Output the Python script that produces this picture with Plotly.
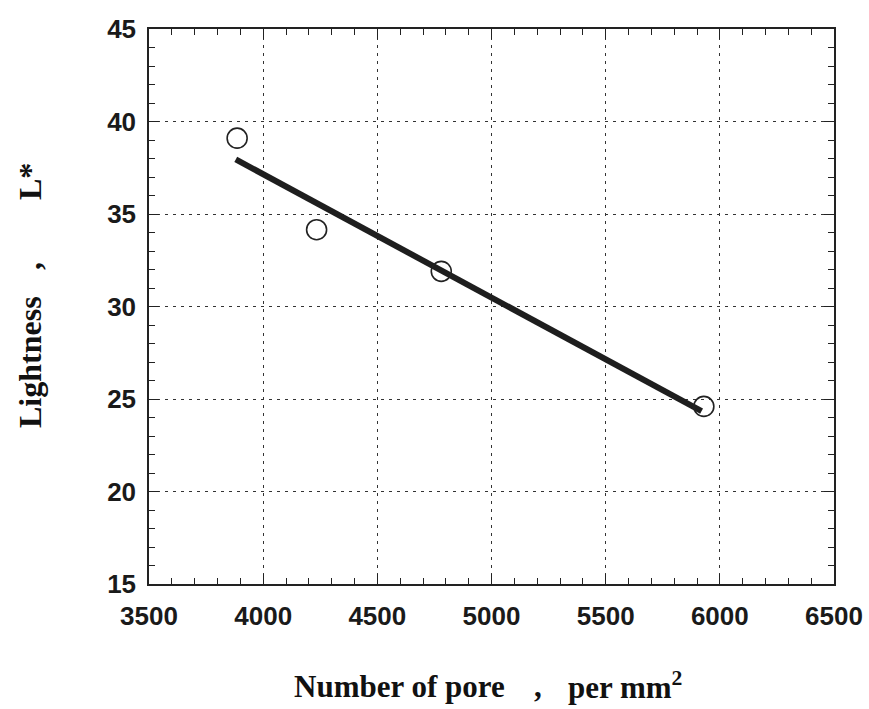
import plotly.graph_objects as go

# Measured samples: pore density vs. lightness
pores = [3886, 4234, 4780, 5930]
lightness = [39.1, 34.15, 31.9, 24.6]

# Linear trend line end points
fit_x = [3880, 5920]
fit_y = [37.95, 24.35]

x_ticks = [3500, 4000, 4500, 5000, 5500, 6000, 6500]
y_ticks = [15, 20, 25, 30, 35, 40, 45]

W, H = 869, 709
L, R, T, B = 149, 35, 29, 125
PW, PH = W - L - R, H - T - B


def px(x):
    return (x - L) / PW


def py(y):
    return (H - B - y) / PH


fig = go.Figure()
fig.add_trace(go.Scatter(
    x=fit_x, y=fit_y, mode="lines",
    line=dict(color="#1e1e1e", width=6),
    showlegend=False,
))
fig.add_trace(go.Scatter(
    x=pores, y=lightness, mode="markers",
    marker=dict(symbol="circle-open", size=20, color="#222", line=dict(width=1.6)),
    showlegend=False,
))

tick_font = dict(family="Liberation Sans, Arial", size=26, color="#1a1a1a", weight="bold")
axis_common = dict(
    showline=True, linecolor="#222", linewidth=1.5, mirror="allticks",
    ticks="inside", ticklen=10, tickwidth=1.3, tickcolor="#222",
    showgrid=True, gridcolor="#333", gridwidth=1.2, griddash="3px,5px",
    zeroline=False, tickfont=tick_font, automargin=False,
    ticklabeloverflow="allow",
)

fig.update_xaxes(
    range=[3500, 6500], tickvals=x_ticks, ticktext=[str(v) for v in x_ticks],
    ticklabelstandoff=8,
    minor=dict(ticks="inside", dtick=100, ticklen=6, tickcolor="#222", tickwidth=1, showgrid=False),
    **axis_common,
)
fig.update_yaxes(
    range=[15, 45], tickvals=y_ticks, ticktext=[str(v) for v in y_ticks],
    ticklabelstandoff=6,
    minor=dict(ticks="inside", dtick=1, ticklen=6, tickcolor="#222", tickwidth=1, showgrid=False),
    **axis_common,
)

title_font = dict(family="Liberation Serif, Times New Roman", size=31, color="#111", weight="bold")
ytitle_font = dict(family="Liberation Serif, Times New Roman", size=32, color="#111", weight="bold")

# x-axis title pieces
fig.add_annotation(text="Number of pore", xref="paper", yref="paper",
                   x=px(292), y=py(687), xanchor="left", yanchor="middle",
                   showarrow=False, font=title_font)
fig.add_annotation(text=",", xref="paper", yref="paper",
                   x=px(538), y=py(687), xanchor="center", yanchor="middle",
                   showarrow=False, font=title_font)
fig.add_annotation(text="per mm<sup>2</sup>", xref="paper", yref="paper",
                   x=px(566), y=py(685), xanchor="left", yanchor="middle",
                   showarrow=False, font=title_font)

# y-axis title pieces
fig.add_annotation(text="Lightness", xref="paper", yref="paper",
                   x=px(30), y=py(362), textangle=-90, xanchor="center", yanchor="middle",
                   showarrow=False, font=ytitle_font)
fig.add_annotation(text=",", xref="paper", yref="paper",
                   x=px(30), y=py(266), textangle=-90, xanchor="center", yanchor="middle",
                   showarrow=False, font=ytitle_font)
fig.add_annotation(text="L*", xref="paper", yref="paper",
                   x=px(30), y=py(182), textangle=-90, xanchor="center", yanchor="middle",
                   showarrow=False, font=ytitle_font)

fig.update_layout(
    width=W, height=H,
    margin=dict(l=L, r=R, t=T, b=B),
    paper_bgcolor="white", plot_bgcolor="white",
)

fig.write_html("out.html")
